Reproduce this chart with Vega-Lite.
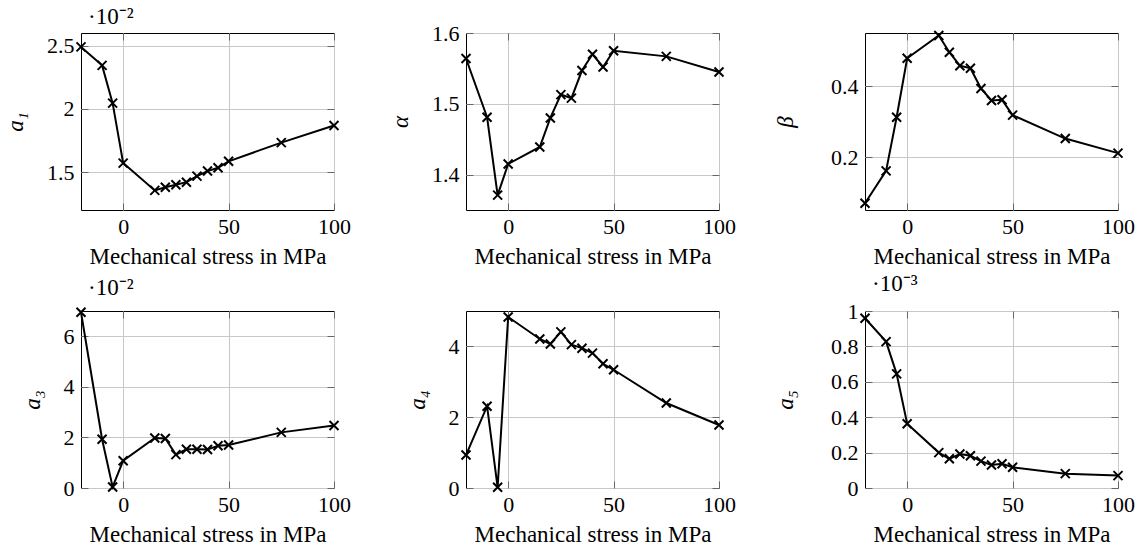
{
  "$schema": "https://vega.github.io/schema/vega-lite/v6.json",
  "background": "white",
  "padding": {"left": 4, "top": 5, "right": 3, "bottom": 5},
  "datasets": {
    "params": [
      {"stress": -20, "a1": 2.49, "alpha": 1.564, "beta": 0.071, "a3": 6.95, "a4": 0.93, "a5": 0.959},
      {"stress": -10, "a1": 2.344, "alpha": 1.481, "beta": 0.162, "a3": 1.93, "a4": 2.31, "a5": 0.827},
      {"stress": -5, "a1": 2.045, "alpha": 1.371, "beta": 0.313, "a3": 0.04, "a4": 0.02, "a5": 0.645},
      {"stress": 0, "a1": 1.571, "alpha": 1.415, "beta": 0.479, "a3": 1.08, "a4": 4.83, "a5": 0.363},
      {"stress": 15, "a1": 1.355, "alpha": 1.439, "beta": 0.543, "a3": 1.98, "a4": 4.21, "a5": 0.2},
      {"stress": 20, "a1": 1.38, "alpha": 1.48, "beta": 0.496, "a3": 1.96, "a4": 4.07, "a5": 0.165},
      {"stress": 25, "a1": 1.4, "alpha": 1.513, "beta": 0.458, "a3": 1.32, "a4": 4.41, "a5": 0.192},
      {"stress": 30, "a1": 1.42, "alpha": 1.508, "beta": 0.451, "a3": 1.53, "a4": 4.05, "a5": 0.182},
      {"stress": 35, "a1": 1.468, "alpha": 1.547, "beta": 0.394, "a3": 1.53, "a4": 3.95, "a5": 0.152},
      {"stress": 40, "a1": 1.508, "alpha": 1.57, "beta": 0.36, "a3": 1.52, "a4": 3.81, "a5": 0.13},
      {"stress": 45, "a1": 1.534, "alpha": 1.552, "beta": 0.362, "a3": 1.67, "a4": 3.51, "a5": 0.137},
      {"stress": 50, "a1": 1.585, "alpha": 1.575, "beta": 0.319, "a3": 1.7, "a4": 3.34, "a5": 0.117},
      {"stress": 75, "a1": 1.733, "alpha": 1.567, "beta": 0.253, "a3": 2.2, "a4": 2.4, "a5": 0.081},
      {"stress": 100, "a1": 1.868, "alpha": 1.545, "beta": 0.212, "a3": 2.47, "a4": 1.78, "a5": 0.07}
    ]
  },
  "data": {"name": "params"},
  "columns": 3,
  "spacing": {"column": 38, "row": 3},
  "concat": [
    {
      "width": 253, "height": 177,
      "title": {"text": "·10⁻²"},
      "resolve": {"axis": {"x": "independent", "y": "independent"}},
      "layer": [
        {"mark": {"type": "line", "color": "black", "strokeWidth": 2, "clip": false},
         "encoding": {
           "x": {"field": "stress", "type": "quantitative", "scale": {"domain": [-20, 100], "nice": false, "zero": false}, "axis": {"values": [0, 50, 100], "title": "Mechanical stress in MPa"}},
           "y": {"field": "a1", "type": "quantitative", "scale": {"domain": [1.2, 2.6], "nice": false, "zero": false}, "axis": {"values": [1.5, 2, 2.5], "format": "~g", "title": "a₁", "titleFontStyle": "italic"}}
         }},
        {"mark": {"type": "point", "shape": "M-1,-1L1,1M-1,1L1,-1", "filled": false, "stroke": "black", "strokeWidth": 2, "size": 81, "opacity": 1, "clip": false},
         "encoding": {
           "x": {"field": "stress", "type": "quantitative", "scale": {"domain": [-20, 100], "nice": false, "zero": false}, "axis": {"orient": "top", "values": [0, 50, 100], "labels": false, "grid": false, "title": null, "minExtent": 0}},
           "y": {"field": "a1", "type": "quantitative", "scale": {"domain": [1.2, 2.6], "nice": false, "zero": false}, "axis": {"orient": "right", "values": [1.5, 2, 2.5], "labels": false, "grid": false, "title": null, "minExtent": 0}}
         }}
      ]
    },
    {
      "width": 253, "height": 177,
      "resolve": {"axis": {"x": "independent", "y": "independent"}},
      "layer": [
        {"mark": {"type": "line", "color": "black", "strokeWidth": 2, "clip": false},
         "encoding": {
           "x": {"field": "stress", "type": "quantitative", "scale": {"domain": [-20, 100], "nice": false, "zero": false}, "axis": {"values": [0, 50, 100], "title": "Mechanical stress in MPa"}},
           "y": {"field": "alpha", "type": "quantitative", "scale": {"domain": [1.35, 1.6], "nice": false, "zero": false}, "axis": {"values": [1.4, 1.5, 1.6], "format": "~g", "title": "α", "titleFontStyle": "italic"}}
         }},
        {"mark": {"type": "point", "shape": "M-1,-1L1,1M-1,1L1,-1", "filled": false, "stroke": "black", "strokeWidth": 2, "size": 81, "opacity": 1, "clip": false},
         "encoding": {
           "x": {"field": "stress", "type": "quantitative", "scale": {"domain": [-20, 100], "nice": false, "zero": false}, "axis": {"orient": "top", "values": [0, 50, 100], "labels": false, "grid": false, "title": null, "minExtent": 0}},
           "y": {"field": "alpha", "type": "quantitative", "scale": {"domain": [1.35, 1.6], "nice": false, "zero": false}, "axis": {"orient": "right", "values": [1.4, 1.5, 1.6], "labels": false, "grid": false, "title": null, "minExtent": 0}}
         }}
      ]
    },
    {
      "width": 253, "height": 177,
      "resolve": {"axis": {"x": "independent", "y": "independent"}},
      "layer": [
        {"mark": {"type": "line", "color": "black", "strokeWidth": 2, "clip": false},
         "encoding": {
           "x": {"field": "stress", "type": "quantitative", "scale": {"domain": [-20, 100], "nice": false, "zero": false}, "axis": {"values": [0, 50, 100], "title": "Mechanical stress in MPa"}},
           "y": {"field": "beta", "type": "quantitative", "scale": {"domain": [0.052, 0.55], "nice": false, "zero": false}, "axis": {"values": [0.2, 0.4], "format": "~g", "title": "β", "titleFontStyle": "italic", "titlePadding": 33}}
         }},
        {"mark": {"type": "point", "shape": "M-1,-1L1,1M-1,1L1,-1", "filled": false, "stroke": "black", "strokeWidth": 2, "size": 81, "opacity": 1, "clip": false},
         "encoding": {
           "x": {"field": "stress", "type": "quantitative", "scale": {"domain": [-20, 100], "nice": false, "zero": false}, "axis": {"orient": "top", "values": [0, 50, 100], "labels": false, "grid": false, "title": null, "minExtent": 0}},
           "y": {"field": "beta", "type": "quantitative", "scale": {"domain": [0.052, 0.55], "nice": false, "zero": false}, "axis": {"orient": "right", "values": [0.2, 0.4], "labels": false, "grid": false, "title": null, "minExtent": 0}}
         }}
      ]
    },
    {
      "width": 253, "height": 177,
      "title": {"text": "·10⁻²"},
      "resolve": {"axis": {"x": "independent", "y": "independent"}},
      "layer": [
        {"mark": {"type": "line", "color": "black", "strokeWidth": 2, "clip": false},
         "encoding": {
           "x": {"field": "stress", "type": "quantitative", "scale": {"domain": [-20, 100], "nice": false, "zero": false}, "axis": {"values": [0, 50, 100], "title": "Mechanical stress in MPa"}},
           "y": {"field": "a3", "type": "quantitative", "scale": {"domain": [0, 7], "nice": false, "zero": false}, "axis": {"values": [0, 2, 4, 6], "format": "~g", "title": "a₃", "titleFontStyle": "italic"}}
         }},
        {"mark": {"type": "point", "shape": "M-1,-1L1,1M-1,1L1,-1", "filled": false, "stroke": "black", "strokeWidth": 2, "size": 81, "opacity": 1, "clip": false},
         "encoding": {
           "x": {"field": "stress", "type": "quantitative", "scale": {"domain": [-20, 100], "nice": false, "zero": false}, "axis": {"orient": "top", "values": [0, 50, 100], "labels": false, "grid": false, "title": null, "minExtent": 0}},
           "y": {"field": "a3", "type": "quantitative", "scale": {"domain": [0, 7], "nice": false, "zero": false}, "axis": {"orient": "right", "values": [0, 2, 4, 6], "labels": false, "grid": false, "title": null, "minExtent": 0}}
         }}
      ]
    },
    {
      "width": 253, "height": 177,
      "resolve": {"axis": {"x": "independent", "y": "independent"}},
      "layer": [
        {"mark": {"type": "line", "color": "black", "strokeWidth": 2, "clip": false},
         "encoding": {
           "x": {"field": "stress", "type": "quantitative", "scale": {"domain": [-20, 100], "nice": false, "zero": false}, "axis": {"values": [0, 50, 100], "title": "Mechanical stress in MPa"}},
           "y": {"field": "a4", "type": "quantitative", "scale": {"domain": [0, 5], "nice": false, "zero": false}, "axis": {"values": [0, 2, 4], "format": "~g", "title": "a₄", "titleFontStyle": "italic"}}
         }},
        {"mark": {"type": "point", "shape": "M-1,-1L1,1M-1,1L1,-1", "filled": false, "stroke": "black", "strokeWidth": 2, "size": 81, "opacity": 1, "clip": false},
         "encoding": {
           "x": {"field": "stress", "type": "quantitative", "scale": {"domain": [-20, 100], "nice": false, "zero": false}, "axis": {"orient": "top", "values": [0, 50, 100], "labels": false, "grid": false, "title": null, "minExtent": 0}},
           "y": {"field": "a4", "type": "quantitative", "scale": {"domain": [0, 5], "nice": false, "zero": false}, "axis": {"orient": "right", "values": [0, 2, 4], "labels": false, "grid": false, "title": null, "minExtent": 0}}
         }}
      ]
    },
    {
      "width": 253, "height": 177,
      "title": {"text": "·10⁻³"},
      "resolve": {"axis": {"x": "independent", "y": "independent"}},
      "layer": [
        {"mark": {"type": "line", "color": "black", "strokeWidth": 2, "clip": false},
         "encoding": {
           "x": {"field": "stress", "type": "quantitative", "scale": {"domain": [-20, 100], "nice": false, "zero": false}, "axis": {"values": [0, 50, 100], "title": "Mechanical stress in MPa"}},
           "y": {"field": "a5", "type": "quantitative", "scale": {"domain": [0, 1], "nice": false, "zero": false}, "axis": {"values": [0, 0.2, 0.4, 0.6, 0.8, 1], "format": "~g", "title": "a₅", "titleFontStyle": "italic", "titlePadding": 33}}
         }},
        {"mark": {"type": "point", "shape": "M-1,-1L1,1M-1,1L1,-1", "filled": false, "stroke": "black", "strokeWidth": 2, "size": 81, "opacity": 1, "clip": false},
         "encoding": {
           "x": {"field": "stress", "type": "quantitative", "scale": {"domain": [-20, 100], "nice": false, "zero": false}, "axis": {"orient": "top", "values": [0, 50, 100], "labels": false, "grid": false, "title": null, "minExtent": 0}},
           "y": {"field": "a5", "type": "quantitative", "scale": {"domain": [0, 1], "nice": false, "zero": false}, "axis": {"orient": "right", "values": [0, 0.2, 0.4, 0.6, 0.8, 1], "labels": false, "grid": false, "title": null, "minExtent": 0}}
         }}
      ]
    }
  ],
  "config": {
    "font": "Liberation Serif",
    "view": {"stroke": "black", "strokeWidth": 1},
    "axis": {
      "labelFont": "Liberation Serif", "titleFont": "Liberation Serif",
      "labelFontSize": 22, "titleFontSize": 23, "titleFontWeight": "normal",
      "labelColor": "black", "titleColor": "black", "labelFlush": false,
      "gridColor": "#c8c8c8", "gridWidth": 1, "domain": false,
      "tickColor": "#666666", "tickSize": -7, "tickWidth": 1
    },
    "axisX": {"labelPadding": 13, "titlePadding": 8},
    "axisY": {"labelPadding": 14, "titlePadding": 19},
    "title": {"font": "Liberation Serif", "fontSize": 23, "fontWeight": "normal", "anchor": "start", "frame": "group", "color": "black", "dx": 7, "offset": 0}
  }
}
